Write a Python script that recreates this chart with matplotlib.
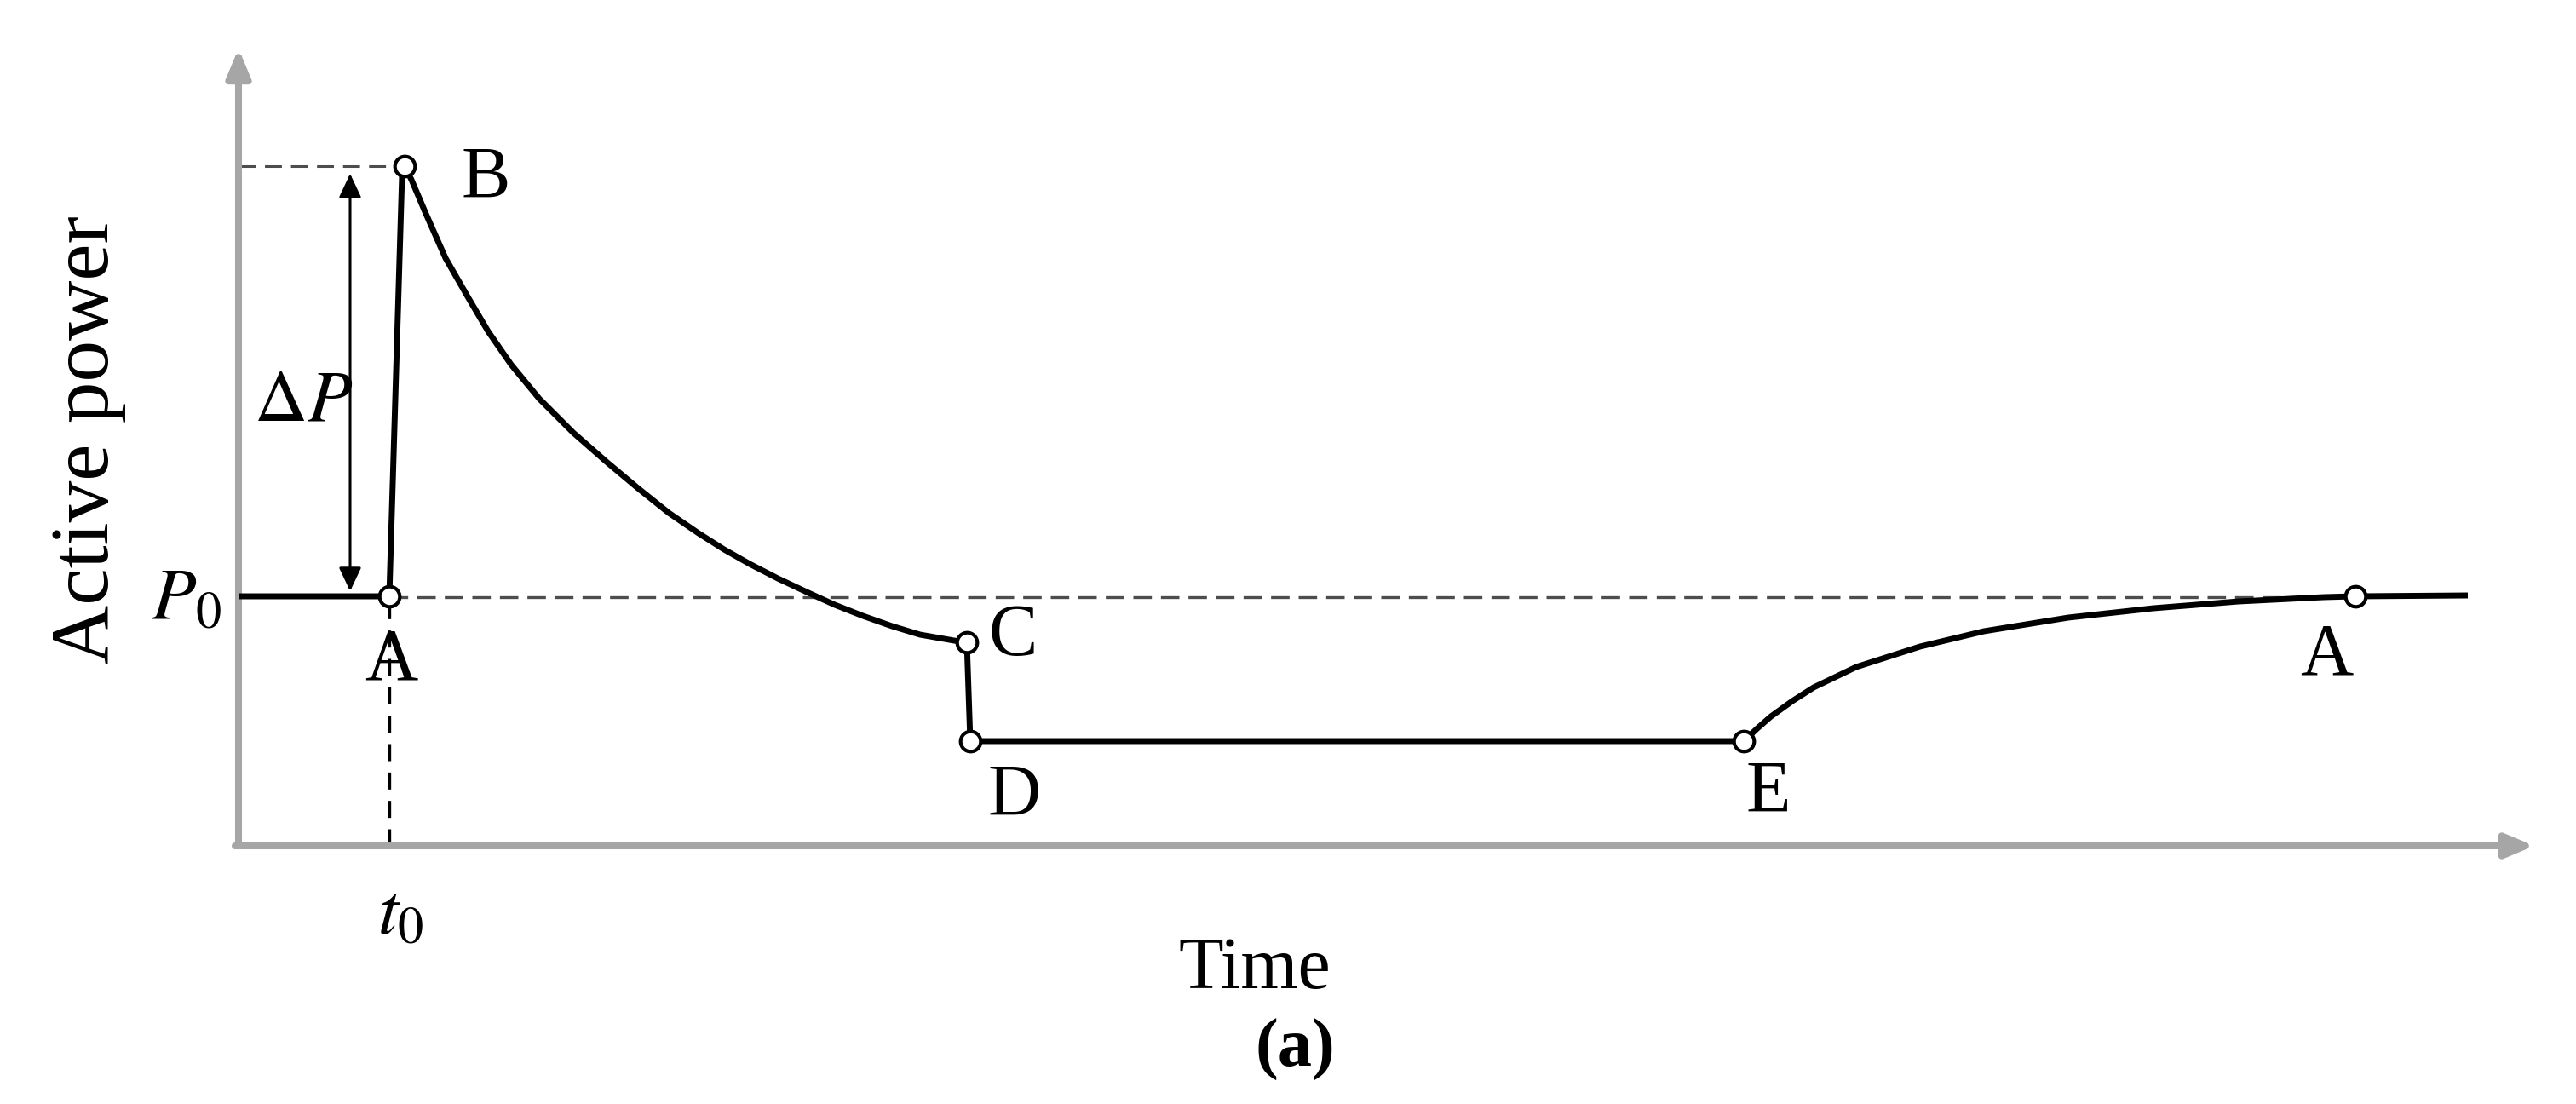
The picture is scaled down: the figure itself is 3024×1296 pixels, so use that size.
import matplotlib
matplotlib.use("Agg")
import matplotlib.pyplot as plt

plt.rcParams['font.family'] = ['Liberation Serif', 'DejaVu Serif']
plt.rcParams['mathtext.fontset'] = 'stix'

W, H, DPI = 3024, 1296, 100

# schematic active power response (arbitrary units)
time = [0.0, 1.77, 1.92, 1.95, 2.03, 2.20, 2.43, 2.70, 2.93, 3.20,
        3.53, 3.93, 4.33, 4.70, 5.05, 5.40, 5.70, 6.00, 6.33, 6.67, 7.00,
        7.33, 7.67, 8.00, 8.40, 8.55, 8.59, 17.67, 17.83, 17.99, 18.24,
        18.49, 18.99, 19.74, 20.49, 21.48, 22.48, 23.48, 24.48, 24.85, 26.17]
power = [2.93, 2.93, 7.88, 7.98, 7.82, 7.42, 6.90, 6.43, 6.04, 5.65,
         5.25, 4.85, 4.50, 4.19, 3.91, 3.67, 3.48, 3.31, 3.14, 2.98, 2.83,
         2.70, 2.58, 2.48, 2.41, 2.39, 1.23, 1.23, 1.38, 1.52, 1.70,
         1.86, 2.10, 2.34, 2.52, 2.68, 2.79, 2.87, 2.92, 2.93, 2.94]

point_names = ['A', 'B', 'C', 'D', 'E', 'A']
point_t = [1.77, 1.95, 8.55, 8.59, 17.67, 24.85]
point_p = [2.93, 7.98, 2.39, 1.23, 1.23, 2.93]
# label offsets in pixels (left, baseline) from each point
label_dx = [-29, 66, 26, 21, 3, -65]
label_dy = [-97, -37, -15, -87, -83, -92]

P0 = 2.92
T0 = 1.77
T_MAX, P_MAX = 26.95, 9.36
GREY = '#a6a6a6'
DASH = '#4d4d4d'


def fig_xy(x, y):
    return x / W, 1 - y / H


fig = plt.figure(figsize=(W / DPI, H / DPI), dpi=DPI)
ax = fig.add_axes([280 / W, (H - 993) / H, (2975 - 280) / W, (993 - 57) / H])
ax.set_xlim(0, T_MAX)
ax.set_ylim(0, P_MAX)
ax.axis('off')

# axes with arrows
axis_arrow = dict(arrowstyle='-|>,head_length=1.0,head_width=0.42',
                  mutation_scale=20, color=GREY, lw=5.8, shrinkA=0, shrinkB=0)
ax.annotate('', xy=(T_MAX, 0), xytext=(-0.04, 0), annotation_clip=False,
            arrowprops=axis_arrow)
ax.annotate('', xy=(0, P_MAX), xytext=(0, 0), annotation_clip=False,
            arrowprops=axis_arrow)

# guide lines
p_peak = max(power)
ax.plot([0, point_t[1]], [p_peak, p_peak], color=DASH, lw=2.2,
        ls=(0, (6.5, 3.5)), clip_on=False)
ax.plot([T0, point_t[-1]], [P0, P0], color=DASH, lw=2.4,
        ls=(0, (6.5, 3.2)), clip_on=False)
ax.plot([T0, T0], [0, P0], color='black', lw=2.4, ls=(0, (6, 4)),
        clip_on=False)

# delta P arrow
ax.annotate('', xy=(1.31, p_peak - 0.09), xytext=(1.31, P0 + 0.07),
            arrowprops=dict(arrowstyle='<|-|>,head_length=0.85,head_width=0.4',
                            mutation_scale=20, color='black', lw=2.2,
                            shrinkA=0, shrinkB=0))

# response curve and key points
ax.plot(time, power, color='black', lw=5, solid_joinstyle='round',
        solid_capstyle='butt', clip_on=False, zorder=3)
ax.plot(point_t, point_p, 'o', ms=17, mfc='white', mec='black', mew=3,
        clip_on=False, zorder=4)

for name, t, p, dx, dy in zip(point_names, point_t, point_p, label_dx, label_dy):
    ax.annotate(name, (t, p), xytext=(dx, dy), textcoords='offset pixels',
                ha='left', va='baseline', fontsize=62)

# annotations
fig.text(*fig_xy(356, 494), r'$\Delta P$', fontsize=62, ha='center',
         va='baseline')
fig.text(*fig_xy(260, 726), r'$P_0$', fontsize=62, ha='right', va='baseline')
fig.text(*fig_xy(470, 1096), r'$t_0$', fontsize=62, ha='center',
         va='baseline')
fig.text(*fig_xy(1473, 1160), 'Time', fontsize=62, ha='center', va='baseline')
fig.text(*fig_xy(1520, 1252), '(a)', fontsize=58, ha='center', va='baseline',
         fontweight='bold')
fig.text(*fig_xy(104, 517), 'Active power', fontsize=70, ha='center',
         va='center', rotation=90)

fig.savefig('out.png', dpi=DPI)
